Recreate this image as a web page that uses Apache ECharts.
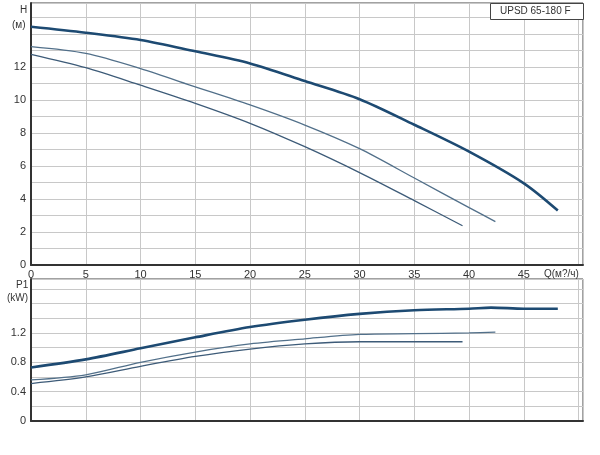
<!DOCTYPE html>
<html>
<head>
<meta charset="utf-8">
<script src="https://cdn.jsdelivr.net/npm/echarts@6/dist/echarts.min.js"></script>
<style>html,body{margin:0;padding:0;background:#fff;}#c{width:600px;height:455px;}</style>
</head>
<body>
<div id="c"></div>
<script>
// Head curves H(Q)
var hQ1 = [0, 5, 10, 15, 20, 25, 30, 35, 40, 45, 48.1];
var hH1 = [14.44, 14.08, 13.64, 12.95, 12.22, 11.15, 10.05, 8.5, 6.87, 4.95, 3.3];
var hQ2 = [0, 5, 10, 15, 20, 25, 30, 35, 40, 42.4];
var hH2 = [13.23, 12.82, 11.9, 10.8, 9.7, 8.48, 7.05, 5.27, 3.48, 2.63];
var hQ3 = [0, 5, 10, 15, 20, 25, 30, 35, 39.4];
var hH3 = [12.77, 11.96, 10.9, 9.8, 8.59, 7.17, 5.6, 3.9, 2.38];
// Power curves P1(Q)
var pQ1 = [0, 5, 10, 15, 20, 25, 30, 35, 40, 42, 45, 48.1];
var pP1 = [0.73, 0.84, 0.99, 1.14, 1.28, 1.38, 1.46, 1.51, 1.53, 1.545, 1.53, 1.53];
var pQ2 = [0, 5, 10, 15, 20, 25, 30, 35, 40, 42.4];
var pP2 = [0.56, 0.63, 0.80, 0.94, 1.05, 1.12, 1.18, 1.19, 1.20, 1.21];
var pQ3 = [0, 5, 10, 15, 20, 25, 30, 35, 39.4];
var pP3 = [0.51, 0.60, 0.745, 0.88, 0.98, 1.05, 1.08, 1.08, 1.08];
var xTicks = [0, 5, 10, 15, 20, 25, 30, 35, 40, 45];
var hTicks = [0, 2, 4, 6, 8, 10, 12];
var pTicks = ['0', '0.4', '0.8', '1.2'];
var title = 'UPSD 65-180 F';

function pairs(xs, ys) { return xs.map(function (x, i) { return [x, ys[i]]; }); }

var FONT = 'Liberation Sans, Arial, sans-serif';
var gridLine = { show: true, lineStyle: { color: '#c8c8c8', width: 1 } };
var axisLine = { show: true, lineStyle: { color: '#333', width: 2 } };

function curve(xi, xs, ys, color, w) {
  return { type: 'line', xAxisIndex: xi, yAxisIndex: xi, data: pairs(xs, ys), smooth: 0.3,
    symbol: 'none', lineStyle: { color: color, width: w } };
}

var chart = echarts.init(document.getElementById('c'), null, { renderer: 'canvas' });
chart.setOption({
  animation: false,
  backgroundColor: '#fff',
  grid: [
    { left: 31, top: 3, width: 552, height: 262, show: true, borderColor: '#444', borderWidth: 1, backgroundColor: 'transparent' },
    { left: 31, top: 279, width: 552, height: 142, show: true, borderColor: '#444', borderWidth: 1, backgroundColor: 'transparent' }
  ],
  xAxis: [
    { gridIndex: 0, type: 'value', min: 0, max: 50.4, interval: 5,
      axisLine: axisLine, axisTick: { show: false }, splitLine: gridLine,
      axisLabel: { color: '#333', fontSize: 11, fontFamily: FONT, margin: 4,
        formatter: function (v) { return xTicks.indexOf(v) >= 0 ? String(v) : ''; } } },
    { gridIndex: 1, type: 'value', min: 0, max: 50.4, interval: 5,
      axisLine: axisLine, axisTick: { show: false }, splitLine: gridLine,
      axisLabel: { show: false } }
  ],
  yAxis: [
    { gridIndex: 0, type: 'value', min: 0, max: 15.88, interval: 1,
      axisLine: axisLine, axisTick: { show: false }, splitLine: gridLine,
      axisLabel: { color: '#333', fontSize: 11, fontFamily: FONT, margin: 5,
        formatter: function (v) { return hTicks.indexOf(v) >= 0 ? String(v) : ''; } } },
    { gridIndex: 1, type: 'value', min: 0, max: 1.935, interval: 0.2,
      axisLine: axisLine, axisTick: { show: false }, splitLine: gridLine,
      axisLabel: { color: '#333', fontSize: 11, fontFamily: FONT, margin: 5,
        formatter: function (v) { var s = String(Math.round(v * 10) / 10); return pTicks.indexOf(s) >= 0 ? s : ''; } } }
  ],
  series: [
    curve(0, hQ1, hH1, '#1d4a72', 2.6),
    curve(0, hQ2, hH2, '#52708a', 1.3),
    curve(0, hQ3, hH3, '#3d5b78', 1.3),
    curve(1, pQ1, pP1, '#1d4a72', 2.6),
    curve(1, pQ2, pP2, '#52708a', 1.3),
    curve(1, pQ3, pP3, '#3d5b78', 1.3)
  ],
  graphic: [
    { type: 'rect', left: 490, top: 3, shape: { width: 93, height: 16 }, style: { fill: '#fff', stroke: '#444', lineWidth: 1 }, z: 10 },
    { type: 'text', left: 500, top: 6, style: { text: title, fill: '#333', font: '10px ' + FONT }, z: 11 },
    { type: 'text', left: 20, top: 5, style: { text: 'H', fill: '#333', font: '10px ' + FONT } },
    { type: 'text', left: 12, top: 20, style: { text: '(м)', fill: '#333', font: '10px ' + FONT } },
    { type: 'text', left: 544, top: 269, style: { text: 'Q(м?/ч)', fill: '#333', font: '10px ' + FONT } },
    { type: 'text', left: 16, top: 280, style: { text: 'P1', fill: '#333', font: '10px ' + FONT } },
    { type: 'text', left: 7, top: 293, style: { text: '(kW)', fill: '#333', font: '10px ' + FONT } }
  ]
});
</script>
</body>
</html>
